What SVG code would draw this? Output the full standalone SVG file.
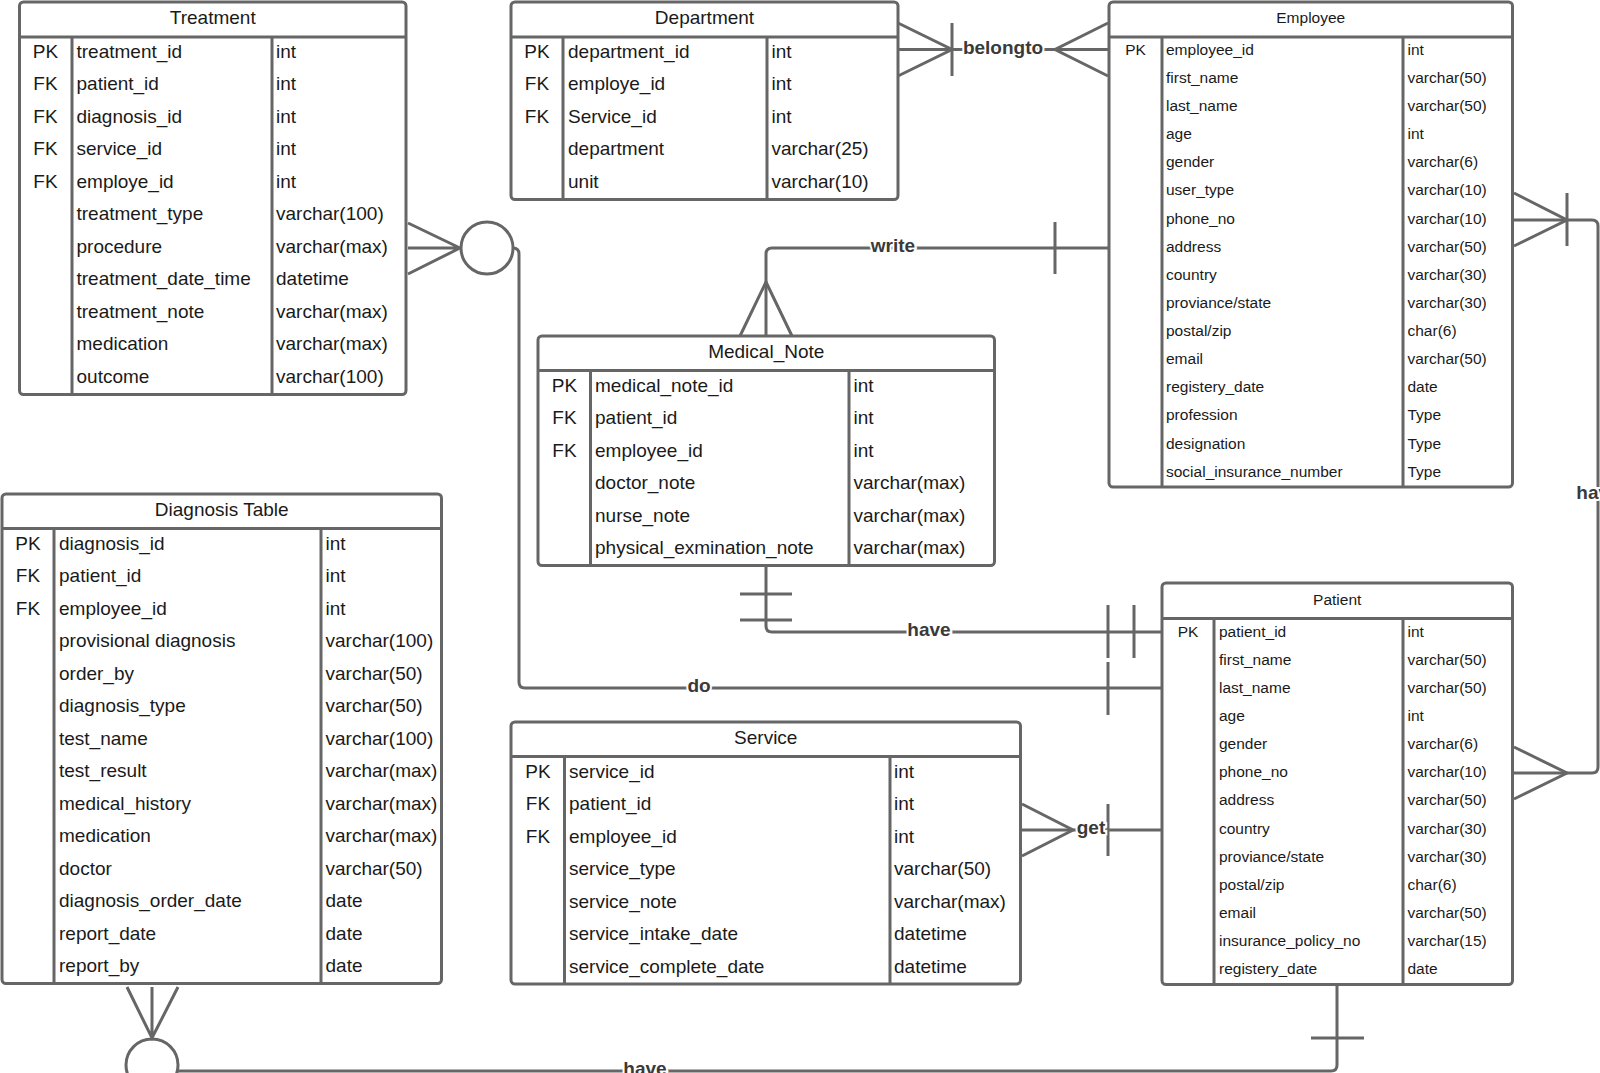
<svg xmlns="http://www.w3.org/2000/svg" width="1600" height="1073" viewBox="0 0 1600 1073">
<style>
.box{fill:#fff;stroke:#666;stroke-width:3}
.ln{fill:none;stroke:#666;stroke-width:3;stroke-linecap:butt}
.t{font-family:"Liberation Sans",Arial,sans-serif;font-size:19px;fill:#1a1a1a}
.s{font-family:"Liberation Sans",Arial,sans-serif;font-size:15.5px;fill:#1a1a1a}
.m{text-anchor:middle}
.lbl{font-family:"Liberation Sans",Arial,sans-serif;font-size:19px;font-weight:bold;fill:#3a3a3a;text-anchor:middle;dominant-baseline:central;stroke:#fff;stroke-width:4;paint-order:stroke}
</style>
<rect width="1600" height="1073" fill="#fff"/>

<g id="connectors">
  <!-- Treatment do Patient -->
  <path class="ln" d="M408,223L460,248M408,248H460M408,274L460,248"/>
  <circle class="ln" cx="487" cy="248" r="26"/>
  <path class="ln" d="M513,248Q519,248 519,254V682Q519,688 525,688H1162"/>
  <path class="ln" d="M1108,662V715"/>
  <text class="lbl" x="699" y="685.5">do</text>

  <!-- Medical_Note have Patient -->
  <path class="ln" d="M766,566V626Q766,632 772,632H1162"/>
  <path class="ln" d="M740,594H792M740,620H792"/>
  <path class="ln" d="M1108,605V658M1134,605V658"/>
  <text class="lbl" x="929" y="629.5">have</text>

  <!-- Employee write Medical_Note -->
  <path class="ln" d="M1109,248H772Q766,248 766,254V336"/>
  <path class="ln" d="M740,336L766,282L792,336"/>
  <path class="ln" d="M1055,222V274"/>
  <text class="lbl" x="893" y="245.5">write</text>

  <!-- Department belongto Employee -->
  <path class="ln" d="M898,49.5H1109"/>
  <path class="ln" d="M898,23L952,49.5L898,76"/>
  <path class="ln" d="M952,23V76"/>
  <path class="ln" d="M1108,23L1055,49.5L1108,76"/>
  <text class="lbl" x="1003" y="47">belongto</text>

  <!-- Employee have Patient -->
  <path class="ln" d="M1513,220H1592Q1598,220 1598,226V767Q1598,773 1592,773H1513"/>
  <path class="ln" d="M1514,193L1567,220L1514,246"/>
  <path class="ln" d="M1567,193V246"/>
  <path class="ln" d="M1514,747L1567,773L1514,799"/>
  <text class="lbl" x="1598" y="492">have</text>

  <!-- Service get Patient -->
  <path class="ln" d="M1021,830H1162"/>
  <path class="ln" d="M1022,804L1073,830L1022,856"/>
  <path class="ln" d="M1108,804V856"/>
  <text class="lbl" x="1091" y="827.5">get</text>

  <!-- Diagnosis have Patient -->
  <path class="ln" d="M1337,985V1065Q1337,1071 1331,1071H176"/>
  <path class="ln" d="M1311,1038H1364"/>
  <path class="ln" d="M127,987L152,1038L178,987M152,987V1038"/>
  <circle class="ln" cx="152" cy="1065" r="26"/>
  <text class="lbl" x="645" y="1068">have</text>
</g>

<g id="treatment">
  <rect class="box" x="19.5" y="2" width="386.5" height="392.5" rx="4"/>
  <path class="ln" d="M19.5,37H406M72,37V394.5M272,37V394.5"/>
  <text class="t m" x="212.75" y="24.2">Treatment</text>
  <text class="t m"><tspan x="45.5" y="57.5">PK</tspan><tspan x="45.5" y="90">FK</tspan><tspan x="45.5" y="122.5">FK</tspan><tspan x="45.5" y="155">FK</tspan><tspan x="45.5" y="187.5">FK</tspan></text>
  <text class="t"><tspan x="76.5" y="57.5">treatment_id</tspan><tspan x="76.5" y="90">patient_id</tspan><tspan x="76.5" y="122.5">diagnosis_id</tspan><tspan x="76.5" y="155">service_id</tspan><tspan x="76.5" y="187.5">employe_id</tspan><tspan x="76.5" y="220">treatment_type</tspan><tspan x="76.5" y="252.5">procedure</tspan><tspan x="76.5" y="285">treatment_date_time</tspan><tspan x="76.5" y="317.5">treatment_note</tspan><tspan x="76.5" y="350">medication</tspan><tspan x="76.5" y="382.5">outcome</tspan></text>
  <text class="t"><tspan x="276" y="57.5">int</tspan><tspan x="276" y="90">int</tspan><tspan x="276" y="122.5">int</tspan><tspan x="276" y="155">int</tspan><tspan x="276" y="187.5">int</tspan><tspan x="276" y="220">varchar(100)</tspan><tspan x="276" y="252.5">varchar(max)</tspan><tspan x="276" y="285">datetime</tspan><tspan x="276" y="317.5">varchar(max)</tspan><tspan x="276" y="350">varchar(max)</tspan><tspan x="276" y="382.5">varchar(100)</tspan></text>
</g>

<g id="department">
  <rect class="box" x="511" y="2" width="387" height="197.5" rx="4"/>
  <path class="ln" d="M511,37H898M563,37V199.5M767,37V199.5"/>
  <text class="t m" x="704.5" y="24.2">Department</text>
  <text class="t m"><tspan x="537" y="57.5">PK</tspan><tspan x="537" y="90">FK</tspan><tspan x="537" y="122.5">FK</tspan></text>
  <text class="t"><tspan x="568" y="57.5">department_id</tspan><tspan x="568" y="90">employe_id</tspan><tspan x="568" y="122.5">Service_id</tspan><tspan x="568" y="155">department</tspan><tspan x="568" y="187.5">unit</tspan></text>
  <text class="t"><tspan x="771.5" y="57.5">int</tspan><tspan x="771.5" y="90">int</tspan><tspan x="771.5" y="122.5">int</tspan><tspan x="771.5" y="155">varchar(25)</tspan><tspan x="771.5" y="187.5">varchar(10)</tspan></text>
</g>

<g id="employee">
  <rect class="box" x="1109" y="2" width="403.5" height="485" rx="4"/>
  <path class="ln" d="M1109,37H1512.5M1162,37V487M1403,37V487"/>
  <text class="s m" x="1310.75" y="23">Employee</text>
  <text class="s m" x="1135.5" y="54.8">PK</text>
  <text class="s"><tspan x="1166" y="54.8">employee_id</tspan><tspan x="1166" y="82.9">first_name</tspan><tspan x="1166" y="111.05">last_name</tspan><tspan x="1166" y="139.2">age</tspan><tspan x="1166" y="167.3">gender</tspan><tspan x="1166" y="195.4">user_type</tspan><tspan x="1166" y="223.55">phone_no</tspan><tspan x="1166" y="251.7">address</tspan><tspan x="1166" y="279.8">country</tspan><tspan x="1166" y="307.9">proviance/state</tspan><tspan x="1166" y="336.05">postal/zip</tspan><tspan x="1166" y="364.2">email</tspan><tspan x="1166" y="392.3">registery_date</tspan><tspan x="1166" y="420.4">profession</tspan><tspan x="1166" y="448.55">designation</tspan><tspan x="1166" y="476.7">social_insurance_number</tspan></text>
  <text class="s"><tspan x="1407.5" y="54.8">int</tspan><tspan x="1407.5" y="82.9">varchar(50)</tspan><tspan x="1407.5" y="111.05">varchar(50)</tspan><tspan x="1407.5" y="139.2">int</tspan><tspan x="1407.5" y="167.3">varchar(6)</tspan><tspan x="1407.5" y="195.4">varchar(10)</tspan><tspan x="1407.5" y="223.55">varchar(10)</tspan><tspan x="1407.5" y="251.7">varchar(50)</tspan><tspan x="1407.5" y="279.8">varchar(30)</tspan><tspan x="1407.5" y="307.9">varchar(30)</tspan><tspan x="1407.5" y="336.05">char(6)</tspan><tspan x="1407.5" y="364.2">varchar(50)</tspan><tspan x="1407.5" y="392.3">date</tspan><tspan x="1407.5" y="420.4">Type</tspan><tspan x="1407.5" y="448.55">Type</tspan><tspan x="1407.5" y="476.7">Type</tspan></text>
</g>

<g id="medical_note">
  <rect class="box" x="538" y="336" width="456.5" height="229.5" rx="4"/>
  <path class="ln" d="M538,370.5H994.5M590.5,370.5V565.5M849,370.5V565.5"/>
  <text class="t m" x="766.25" y="358.4">Medical_Note</text>
  <text class="t m"><tspan x="564.5" y="391.9">PK</tspan><tspan x="564.5" y="424.4">FK</tspan><tspan x="564.5" y="456.9">FK</tspan></text>
  <text class="t"><tspan x="595" y="391.9">medical_note_id</tspan><tspan x="595" y="424.4">patient_id</tspan><tspan x="595" y="456.9">employee_id</tspan><tspan x="595" y="489.4">doctor_note</tspan><tspan x="595" y="521.9">nurse_note</tspan><tspan x="595" y="554.4">physical_exmination_note</tspan></text>
  <text class="t"><tspan x="853.5" y="391.9">int</tspan><tspan x="853.5" y="424.4">int</tspan><tspan x="853.5" y="456.9">int</tspan><tspan x="853.5" y="489.4">varchar(max)</tspan><tspan x="853.5" y="521.9">varchar(max)</tspan><tspan x="853.5" y="554.4">varchar(max)</tspan></text>
</g>

<g id="diagnosis">
  <rect class="box" x="2" y="494" width="439.5" height="489.5" rx="4"/>
  <path class="ln" d="M2,528.5H441.5M54,528.5V983.5M321,528.5V983.5"/>
  <text class="t m" x="221.75" y="516.2">Diagnosis Table</text>
  <text class="t m"><tspan x="28" y="549.9">PK</tspan><tspan x="28" y="582.4">FK</tspan><tspan x="28" y="614.9">FK</tspan></text>
  <text class="t"><tspan x="59" y="549.9">diagnosis_id</tspan><tspan x="59" y="582.4">patient_id</tspan><tspan x="59" y="614.9">employee_id</tspan><tspan x="59" y="647.4">provisional diagnosis</tspan><tspan x="59" y="679.9">order_by</tspan><tspan x="59" y="712.4">diagnosis_type</tspan><tspan x="59" y="744.9">test_name</tspan><tspan x="59" y="777.4">test_result</tspan><tspan x="59" y="809.9">medical_history</tspan><tspan x="59" y="842.4">medication</tspan><tspan x="59" y="874.9">doctor</tspan><tspan x="59" y="907.4">diagnosis_order_date</tspan><tspan x="59" y="939.9">report_date</tspan><tspan x="59" y="972.4">report_by</tspan></text>
  <text class="t"><tspan x="325.5" y="549.9">int</tspan><tspan x="325.5" y="582.4">int</tspan><tspan x="325.5" y="614.9">int</tspan><tspan x="325.5" y="647.4">varchar(100)</tspan><tspan x="325.5" y="679.9">varchar(50)</tspan><tspan x="325.5" y="712.4">varchar(50)</tspan><tspan x="325.5" y="744.9">varchar(100)</tspan><tspan x="325.5" y="777.4">varchar(max)</tspan><tspan x="325.5" y="809.9">varchar(max)</tspan><tspan x="325.5" y="842.4">varchar(max)</tspan><tspan x="325.5" y="874.9">varchar(50)</tspan><tspan x="325.5" y="907.4">date</tspan><tspan x="325.5" y="939.9">date</tspan><tspan x="325.5" y="972.4">date</tspan></text>
</g>

<g id="service">
  <rect class="box" x="511" y="722" width="509.5" height="262" rx="4"/>
  <path class="ln" d="M511,756.5H1020.5M564.5,756.5V984M890,756.5V984"/>
  <text class="t m" x="765.75" y="743.6">Service</text>
  <text class="t m"><tspan x="538" y="777.6">PK</tspan><tspan x="538" y="810.1">FK</tspan><tspan x="538" y="842.6">FK</tspan></text>
  <text class="t"><tspan x="569" y="777.6">service_id</tspan><tspan x="569" y="810.1">patient_id</tspan><tspan x="569" y="842.6">employee_id</tspan><tspan x="569" y="875.1">service_type</tspan><tspan x="569" y="907.6">service_note</tspan><tspan x="569" y="940.1">service_intake_date</tspan><tspan x="569" y="972.6">service_complete_date</tspan></text>
  <text class="t"><tspan x="894" y="777.6">int</tspan><tspan x="894" y="810.1">int</tspan><tspan x="894" y="842.6">int</tspan><tspan x="894" y="875.1">varchar(50)</tspan><tspan x="894" y="907.6">varchar(max)</tspan><tspan x="894" y="940.1">datetime</tspan><tspan x="894" y="972.6">datetime</tspan></text>
</g>

<g id="patient">
  <rect class="box" x="1162" y="583" width="350.5" height="401.5" rx="4"/>
  <path class="ln" d="M1162,618.5H1512.5M1214,618.5V984.5M1403,618.5V984.5"/>
  <text class="s m" x="1337.25" y="604.6">Patient</text>
  <text class="s m" x="1188" y="636.5">PK</text>
  <text class="s"><tspan x="1219" y="636.5">patient_id</tspan><tspan x="1219" y="664.65">first_name</tspan><tspan x="1219" y="692.8">last_name</tspan><tspan x="1219" y="720.95">age</tspan><tspan x="1219" y="749.1">gender</tspan><tspan x="1219" y="777.25">phone_no</tspan><tspan x="1219" y="805.4">address</tspan><tspan x="1219" y="833.55">country</tspan><tspan x="1219" y="861.7">proviance/state</tspan><tspan x="1219" y="889.85">postal/zip</tspan><tspan x="1219" y="918">email</tspan><tspan x="1219" y="946.15">insurance_policy_no</tspan><tspan x="1219" y="974.3">registery_date</tspan></text>
  <text class="s"><tspan x="1407.5" y="636.5">int</tspan><tspan x="1407.5" y="664.65">varchar(50)</tspan><tspan x="1407.5" y="692.8">varchar(50)</tspan><tspan x="1407.5" y="720.95">int</tspan><tspan x="1407.5" y="749.1">varchar(6)</tspan><tspan x="1407.5" y="777.25">varchar(10)</tspan><tspan x="1407.5" y="805.4">varchar(50)</tspan><tspan x="1407.5" y="833.55">varchar(30)</tspan><tspan x="1407.5" y="861.7">varchar(30)</tspan><tspan x="1407.5" y="889.85">char(6)</tspan><tspan x="1407.5" y="918">varchar(50)</tspan><tspan x="1407.5" y="946.15">varchar(15)</tspan><tspan x="1407.5" y="974.3">date</tspan></text>
</g>
</svg>
